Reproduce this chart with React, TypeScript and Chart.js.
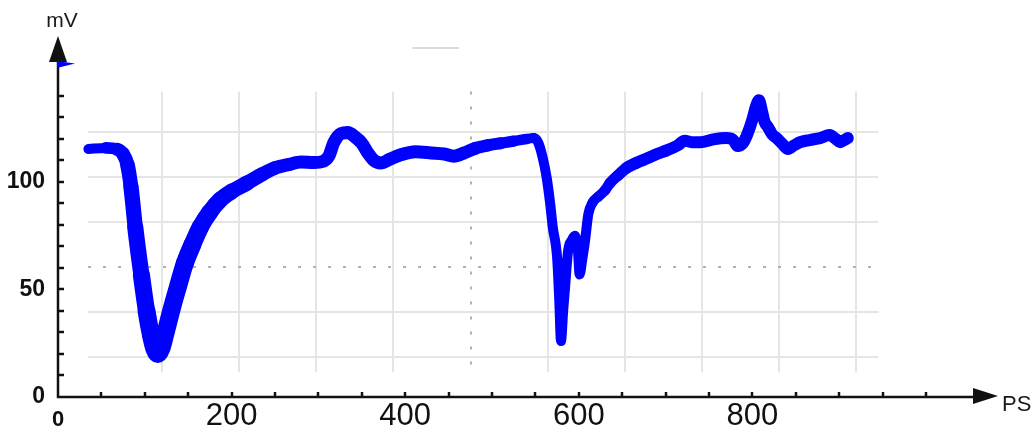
import React, { useEffect, useRef } from 'react';
import { Chart, registerables } from 'chart.js';

Chart.register(...registerables);

// ---- data ----
const timePs = [
  35, 55, 68, 75, 80, 84, 89, 96, 102, 107,
  111, 115, 119, 124, 131, 138, 146, 155, 164, 175,
  187, 200, 218, 235, 250, 265, 280, 295, 305, 312,
  318, 326, 334, 342, 350, 357, 364, 372, 382, 394,
  412, 430, 445, 456, 468, 480, 495, 510, 525, 540,
  548, 553, 558, 563, 567, 570, 575, 577.5, 579.5, 582,
  584, 587.7, 592, 595.6, 599, 601, 604, 607, 611, 616,
  622, 630, 636, 645, 655, 667, 679, 690, 702, 714,
  722, 730, 740, 755, 770, 778, 783, 789, 794, 800,
  804, 807.6, 811, 814, 818, 823, 828, 835, 841, 848,
  855, 866, 878, 889, 896, 901, 906, 910,
];
const voltageMv = [
  115.3, 115.8, 115.2, 113, 108, 98, 79, 57, 40, 29,
  22.5, 20, 22.5, 30, 41, 51, 62, 71, 79, 86,
  91.7, 95.5, 99.5, 103.5, 106.5, 108, 109.3, 109, 109.5, 112,
  118.5, 122.5, 123, 121, 118, 113.5, 110, 108.8, 110.5, 112.5,
  114, 113.5, 113, 112, 113.5, 115.5, 117, 118, 119, 120,
  120.4, 118.5, 112, 102, 90, 79, 65, 45, 26, 40,
  50, 68, 73, 75, 68, 57, 64, 72, 85, 90.5,
  93, 96, 99.5, 103, 106.5, 109, 111, 113, 114.8, 117,
  119.2, 118.5, 118.5, 119.8, 120.4, 119.5, 116.7, 118, 122, 129,
  135, 138, 133, 128, 125.5, 122, 120.4, 117.5, 115.3, 117,
  118.5, 119.5, 120.4, 121.8, 120, 118.5, 119.5, 120.4,
];
const xTickValues = [0, 50, 100, 150, 200, 250, 300, 350, 400, 450, 500, 550, 600, 650, 700, 750, 800, 850, 900, 950, 1000];
const xTickLabels = [0, 200, 400, 600, 800];
const yTickValues = [0, 10, 20, 30, 40, 50, 60, 70, 80, 90, 100, 110, 120, 130, 140];
const yTickLabels = [0, 50, 100];
const xAxisTitle = 'PS';
const yAxisTitle = 'mV';

const INK = '#111111';
const TRACE = '#0000ff';
const FAMILY = '"Liberation Sans", Arial, sans-serif';

function ramp(x: number, x0: number, x1: number, w0: number, w1: number) {
  const t = Math.min(1, Math.max(0, (x - x0) / (x1 - x0)));
  return w0 + (w1 - w0) * t;
}

// trace thickness along the time axis (scope trace is thicker in the first dip)
function traceWidth(x: number) {
  if (x < 50) return 10;
  if (x < 105) return ramp(x, 50, 105, 10, 18);
  if (x < 150) return 18;
  if (x < 260) return ramp(x, 150, 260, 18, 13);
  if (x < 480) return 13;
  if (x < 545) return ramp(x, 480, 545, 13, 10);
  if (x < 618) return 10;
  if (x < 665) return ramp(x, 618, 665, 10, 12);
  return 12;
}

const scopePlugin = {
  id: 'scopeDecor',
  beforeDatasetsDraw(chart: any) {
    const { ctx, scales } = chart;
    const x = scales.x;
    const y = scales.y;
    ctx.save();
    // oscilloscope graticule
    const top = y.getPixelForValue(142);
    const bot = y.getPixelForValue(11.5);
    for (let k = 1; k <= 10; k++) {
      const px = Math.round(x.getPixelForValue(30.9 + 88.9 * k));
      ctx.beginPath();
      if (k === 5) {
        ctx.strokeStyle = '#b0b0b0';
        ctx.setLineDash([3, 12]);
      } else {
        ctx.strokeStyle = '#e5e5e5';
        ctx.setLineDash([]);
      }
      ctx.lineWidth = 2;
      ctx.moveTo(px, top);
      ctx.lineTo(px, bot);
      ctx.stroke();
    }
    const left = x.getPixelForValue(34.6);
    const right = x.getPixelForValue(945);
    for (let j = 0; j <= 5; j++) {
      const py = Math.round(y.getPixelForValue(18.5 + 20.9 * j));
      ctx.beginPath();
      if (j === 2) {
        ctx.strokeStyle = '#b0b0b0';
        ctx.setLineDash([3, 12]);
      } else {
        ctx.strokeStyle = '#e5e5e5';
        ctx.setLineDash([]);
      }
      ctx.lineWidth = 2;
      ctx.moveTo(left, py);
      ctx.lineTo(right, py);
      ctx.stroke();
    }
    ctx.setLineDash([]);
    // small dash at the top of the screen
    ctx.strokeStyle = '#dcdcdc';
    ctx.lineWidth = 2;
    ctx.beginPath();
    const ty = y.getPixelForValue(162.3);
    ctx.moveTo(x.getPixelForValue(408), ty);
    ctx.lineTo(x.getPixelForValue(462), ty);
    ctx.stroke();
    ctx.restore();
  },
  afterDraw(chart: any) {
    const { ctx, scales } = chart;
    const x = scales.x;
    const y = scales.y;
    const x0 = x.getPixelForValue(0);
    const y0 = y.getPixelForValue(0);
    ctx.save();
    ctx.strokeStyle = INK;
    ctx.fillStyle = INK;
    ctx.lineWidth = 2.5;
    // y axis + arrow
    ctx.beginPath();
    ctx.moveTo(x0, y0 + 1);
    ctx.lineTo(x0, 58);
    ctx.stroke();
    ctx.beginPath();
    ctx.moveTo(x0, 36);
    ctx.lineTo(x0 - 9, 62);
    ctx.lineTo(x0 + 9, 62);
    ctx.closePath();
    ctx.fill();
    // x axis + arrow
    ctx.beginPath();
    ctx.moveTo(x0 - 1, y0);
    ctx.lineTo(978, y0);
    ctx.stroke();
    ctx.beginPath();
    ctx.moveTo(998, y0 - 1);
    ctx.lineTo(973, y0 - 9);
    ctx.lineTo(973, y0 + 7);
    ctx.closePath();
    ctx.fill();
    // inward tick marks
    ctx.lineWidth = 2.5;
    for (const v of yTickValues) {
      if (v === 0) continue;
      const py = Math.round(y.getPixelForValue(v));
      ctx.beginPath();
      ctx.moveTo(x0, py);
      ctx.lineTo(x0 + 6, py);
      ctx.stroke();
    }
    for (const v of xTickValues) {
      if (v === 0) continue;
      const px = Math.round(x.getPixelForValue(v));
      ctx.beginPath();
      ctx.moveTo(px, y0);
      ctx.lineTo(px, y0 - 5);
      ctx.stroke();
    }
    // blue channel marker near the top of the y axis
    ctx.fillStyle = TRACE;
    ctx.beginPath();
    ctx.moveTo(x0 - 1, 61);
    ctx.lineTo(x0 + 17, 63.5);
    ctx.lineTo(x0 - 1, 68);
    ctx.closePath();
    ctx.fill();
    // axis titles
    ctx.fillStyle = '#1a1a1a';
    ctx.font = '21px ' + FAMILY;
    ctx.textAlign = 'center';
    ctx.textBaseline = 'middle';
    ctx.fillText(yAxisTitle, 62, 21);
    ctx.font = '22px ' + FAMILY;
    ctx.textAlign = 'left';
    ctx.fillText(xAxisTitle, 1002, 405);
    ctx.restore();
  },
};

export default function App() {
  const ref = useRef<HTMLCanvasElement>(null);
  useEffect(() => {
    if (!ref.current) return;
    const points = timePs.map((t, i) => ({ x: t, y: voltageMv[i] }));
    const chart = new Chart(ref.current, {
      type: 'line',
      data: {
        datasets: [
          {
            label: 'signal',
            data: points,
            borderColor: TRACE,
            backgroundColor: TRACE,
            borderWidth: 12,
            pointRadius: 0,
            cubicInterpolationMode: 'monotone',
            borderCapStyle: 'round',
            borderJoinStyle: 'round',
            segment: {
              borderCapStyle: 'round',
              borderJoinStyle: 'round',
              borderWidth: (c: any) => traceWidth((c.p0.parsed.x + c.p1.parsed.x) / 2),
            },
          } as any,
        ],
      },
      options: {
        animation: false,
        responsive: false,
        maintainAspectRatio: false,
        layout: { padding: { top: 40, right: 50, left: 0, bottom: 0 } },
        plugins: { legend: { display: false }, tooltip: { enabled: false } },
        scales: {
          x: {
            type: 'linear',
            min: 0,
            max: 1068,
            afterBuildTicks: (s: any) => {
              s.ticks = xTickValues.map((v) => ({ value: v }));
            },
            afterFit: (s: any) => {
              s.height = 37;
            },
            grid: { display: false, drawTicks: false },
            border: { display: false },
            ticks: {
              autoSkip: false,
              maxRotation: 0,
              minRotation: 0,
              padding: 1,
              color: INK,
              callback: (v: any) => (xTickLabels.includes(Number(v)) ? String(v) : ''),
              font: (c: any) =>
                c.tick && c.tick.value === 0
                  ? { family: FAMILY, size: 22, weight: 'bold', lineHeight: 2 }
                  : { family: FAMILY, size: 31 },
            },
          },
          y: {
            type: 'linear',
            min: 0,
            max: 166,
            afterBuildTicks: (s: any) => {
              s.ticks = yTickValues.map((v) => ({ value: v }));
            },
            afterFit: (s: any) => {
              s.width = 58;
            },
            grid: { display: false, drawTicks: false },
            border: { display: false },
            ticks: {
              autoSkip: false,
              padding: 13,
              color: INK,
              font: { family: FAMILY, size: 23, weight: 'bold' },
              callback: (v: any) => (yTickLabels.includes(Number(v)) ? String(v) : ''),
            },
          },
        },
      } as any,
      plugins: [scopePlugin],
    });
    return () => chart.destroy();
  }, []);
  return (
    <div style={{ position: 'absolute', left: 0, top: 0, width: 1035, height: 434, background: '#ffffff' }}>
      <canvas ref={ref} width={1035} height={434} style={{ display: 'block', width: 1035, height: 434 }} />
    </div>
  );
}
